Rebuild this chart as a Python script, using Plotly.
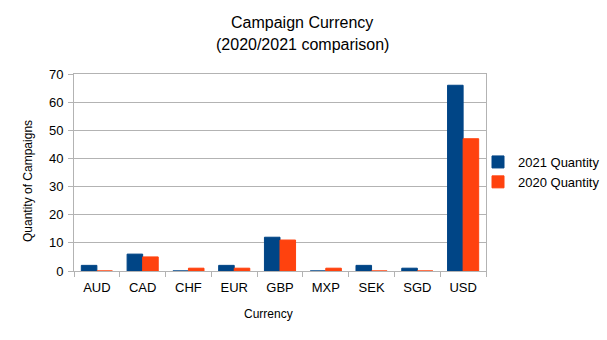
import plotly.graph_objects as go

currencies = ["AUD", "CAD", "CHF", "EUR", "GBP", "MXP", "SEK", "SGD", "USD"]
qty_2021 = [2, 6, 0, 2, 12, 0, 2, 1, 66]
qty_2020 = [0, 5, 1, 1, 11, 1, 0, 0, 47]
y_ticks = [0, 10, 20, 30, 40, 50, 60, 70]

BLUE = "#004586"
ORANGE = "#ff420e"
GRID = "#b3b3b3"
FONT = "Liberation Sans, Arial, sans-serif"

fig = go.Figure()
fig.add_trace(go.Bar(x=currencies, y=qty_2021, name="2021 Quantity",
                     marker=dict(color=BLUE, line=dict(color=BLUE, width=1))))
fig.add_trace(go.Bar(x=currencies, y=qty_2020, name="2020 Quantity",
                     marker=dict(color=ORANGE, line=dict(color=ORANGE, width=1))))

L, R, T, B = 74, 121, 74, 69
W, H = 607, 340
pw, ph = W - L - R, H - T - B

def px(x):
    return (x - L) / pw

def py(y):
    return (H - B - y) / ph

fig.update_layout(
    width=W, height=H,
    margin=dict(l=L, r=R, t=T, b=B, pad=0, autoexpand=False),
    paper_bgcolor="white", plot_bgcolor="white",
    font=dict(family=FONT, size=13, color="black"),
    barmode="group", bargap=0.32, bargroupgap=0,
    showlegend=True,
    legend=dict(x=px(478), xanchor="left", y=py(147), yanchor="top",
                font=dict(size=13), bgcolor="rgba(0,0,0,0)",
                itemwidth=30, tracegroupgap=0),
    xaxis=dict(type="category", showgrid=False, showline=True, linecolor=GRID,
               linewidth=1, mirror=True, ticks="outside", tickson="boundaries",
               ticklen=5, tickcolor=GRID, tickfont=dict(size=13),
               ticklabelstandoff=4),
    yaxis=dict(range=[0, 70], tickvals=y_ticks, showgrid=True, gridcolor=GRID,
               gridwidth=1, showline=True, linecolor=GRID, mirror=True,
               ticks="outside", ticklen=5, tickcolor=GRID, zeroline=False,
               tickfont=dict(size=13), ticklabelstandoff=2),
    annotations=[
        dict(text="Campaign Currency", x=px(302), y=py(22), xref="paper", yref="paper",
             showarrow=False, font=dict(size=16), xanchor="center", yanchor="middle"),
        dict(text="(2020/2021 comparison)", x=px(302), y=py(44), xref="paper", yref="paper",
             showarrow=False, font=dict(size=16), xanchor="center", yanchor="middle"),
        dict(text="Currency", x=px(268), y=py(314), xref="paper", yref="paper",
             showarrow=False, font=dict(size=12), xanchor="center", yanchor="middle"),
        dict(text="Quantity of Campaigns", x=px(28), y=py(181), xref="paper", yref="paper",
             showarrow=False, font=dict(size=12), textangle=-90,
             xanchor="center", yanchor="middle"),
    ],
)

fig.write_html("out.html")
